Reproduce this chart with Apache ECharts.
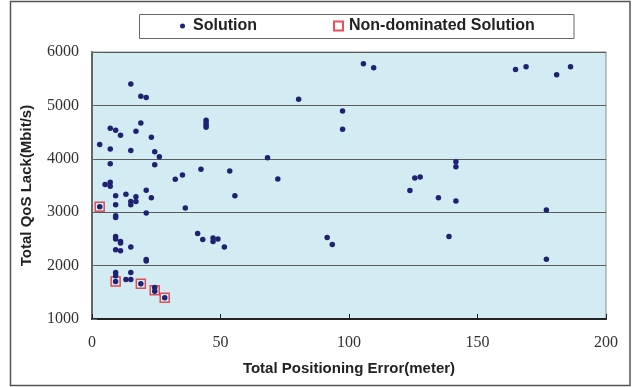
<!DOCTYPE html>
<html>
<head>
<meta charset="utf-8">
<script src="https://cdn.jsdelivr.net/npm/echarts@6/dist/echarts.min.js"></script>
<style>
  html, body { margin: 0; padding: 0; background: #fff; }
  .chart { width: 639px; height: 387px; }
</style>
</head>
<body>
<div class="chart"></div>
<script>
// scatter: solutions vs non-dominated solutions
var xTicks = [0, 50, 100, 150, 200];
var yTicks = [1000, 2000, 3000, 4000, 5000, 6000];

// [positioning error, QoS lack]
var solutionPoints = [
  [15.1, 5400], [19.0, 5170], [21.1, 5150],
  [7.1, 4570], [9.2, 4535], [19.0, 4670], [17.1, 4515], [11.1, 4440], [3.0, 4270],
  [7.1, 4185], [15.1, 4155], [23.1, 4405], [24.4, 4130], [26.2, 4040], [7.1, 3905],
  [24.4, 3890], [42.4, 3805], [35.2, 3695], [32.4, 3615],
  [44.4, 4720], [44.4, 4675], [44.4, 4630], [44.4, 4590],
  [5.1, 3520], [7.1, 3560], [7.1, 3485], [9.2, 3310], [13.2, 3335], [17.1, 3290],
  [17.1, 3200], [15.1, 3200], [15.1, 3140], [21.1, 3410], [23.1, 3270], [9.2, 3140],
  [3.0, 3100], [36.3, 3080], [21.1, 2985], [9.2, 2935], [9.2, 2900],
  [9.2, 2545], [9.2, 2500], [11.1, 2450], [11.1, 2425], [9.2, 2295], [11.1, 2280],
  [15.1, 2350], [21.1, 2115], [21.1, 2085], [41.1, 2600], [43.1, 2490], [47.1, 2515],
  [47.1, 2450], [49.0, 2500],
  [9.2, 1870], [9.2, 1810], [15.1, 1870], [13.2, 1740], [15.1, 1740], [9.2, 1700],
  [19.0, 1660], [24.4, 1590], [24.4, 1520], [28.3, 1400],
  [53.6, 3770], [68.3, 4020], [72.3, 3620], [80.4, 5115], [97.5, 4895], [97.5, 4555],
  [105.6, 5780], [109.6, 5705], [55.6, 3310], [51.5, 2350], [91.5, 2525], [93.5, 2395],
  [164.8, 5670], [168.9, 5725], [180.8, 5575], [186.2, 5725], [141.6, 3945], [141.6, 3850],
  [125.6, 3640], [127.7, 3660], [123.7, 3405], [134.8, 3270], [141.6, 3210], [176.8, 3040],
  [138.9, 2545], [176.8, 2120]
];

var nonDominatedPoints = [
  [3.0, 3100], [9.2, 1700], [19.0, 1660], [24.4, 1540], [28.3, 1400]
];

var seriesNames = ["Solution", "Non-dominated Solution"];

var myChart = echarts.init(document.querySelector('.chart'));
var labelFont = {
  fontFamily: "Liberation Serif",
  fontSize: 16,
  color: "#333",
};
var nameFont = {
  fontFamily: "Liberation Sans",
  fontWeight: "bold",
  fontSize: 15,
  color: "#222",
};
var option = {
  backgroundColor: "#fff",
  animation: false,
  graphic: [
    {
      type: "rect",
      shape: { x: 10.5, y: 1.5, width: 619.5, height: 384 },
      style: { fill: "none", stroke: "#555", lineWidth: 1.5 },
      z: 0,
    },
    {
      type: "rect",
      shape: { x: 139.5, y: 14.5, width: 434.5, height: 24 },
      style: { fill: "#fff", stroke: "#666", lineWidth: 1 },
      z: 0,
    },
  ],
  legend: [
    {
      data: [seriesNames[0]],
      left: 180,
      top: 18,
      padding: 0,
      itemWidth: 5,
      itemHeight: 5,
      textStyle: { fontFamily: "Liberation Sans", fontWeight: "bold", fontSize: 16, color: "#222", padding: [0, 0, 0, 3] },
    },
    {
      data: [seriesNames[1]],
      left: 333,
      top: 18,
      padding: 0,
      itemWidth: 9,
      itemHeight: 9,
      textStyle: { fontFamily: "Liberation Sans", fontWeight: "bold", fontSize: 16, color: "#222", padding: [0, 0, 0, 1] },
    },
  ],
  grid: {
    left: 92,
    top: 52,
    width: 514,
    height: 267,
    show: true,
    backgroundColor: "#d3ebf2",
    borderColor: "#8a8a8a",
    borderWidth: 1,
  },
  xAxis: {
    type: "value",
    min: xTicks[0],
    max: xTicks[xTicks.length - 1],
    interval: 50,
    name: "Total Positioning Error(meter)",
    nameLocation: "middle",
    nameGap: 42,
    nameTextStyle: nameFont,
    axisLine: { show: true, lineStyle: { color: "#222", width: 2 } },
    axisTick: { show: true, inside: true, length: 5, lineStyle: { color: "#222" } },
    axisLabel: Object.assign({ margin: 16, formatter: "{value}" }, labelFont),
    splitLine: { show: false },
  },
  yAxis: {
    type: "value",
    min: yTicks[0],
    max: yTicks[yTicks.length - 1],
    interval: 1000,
    name: "Total QoS Lack(Mbit/s)",
    nameLocation: "middle",
    nameGap: 58,
    nameTextStyle: nameFont,
    axisLine: { show: true, lineStyle: { color: "#666", width: 2 } },
    axisTick: { show: true, inside: true, length: 5, lineStyle: { color: "#666" } },
    axisLabel: Object.assign({
      margin: 13,
      padding: [4, 0, 0, 0],
      formatter: function (v) { return String(v); },
    }, labelFont),
    splitLine: { show: true, lineStyle: { color: "#5a5a5a", width: 1.2 } },
  },
  series: [
    {
      name: seriesNames[1],
      type: "scatter",
      symbol: "rect",
      symbolSize: 9,
      z: 2,
      itemStyle: { color: "rgba(255,255,255,0)", borderColor: "#e52630", borderWidth: 1.5 },
      data: nonDominatedPoints,
    },
    {
      name: seriesNames[0],
      type: "scatter",
      symbol: "circle",
      symbolSize: 5.5,
      z: 3,
      itemStyle: { color: "#1f2172", opacity: 1 },
      data: solutionPoints,
    },
  ],
};
myChart.setOption(option);
window.addEventListener("resize", function() {
  myChart.resize();
});
</script>
</body>
</html>
